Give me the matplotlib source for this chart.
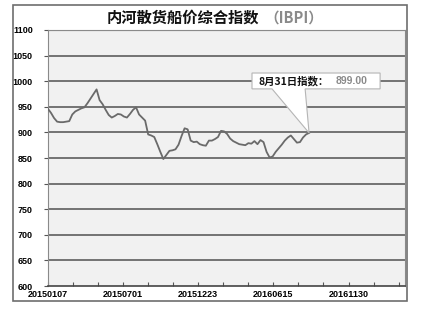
import matplotlib.pyplot as plt
import numpy as np
from matplotlib.patches import Rectangle, Polygon

plt.rcParams['font.family'] = ['Liberation Sans', 'Noto Sans CJK SC', 'DejaVu Sans']

# Indice hebdomadaire, du 20150107 au 20160831
valeurs = [
    946, 938, 928, 921, 920, 920, 921, 922, 935, 941,
    944, 947, 949, 957, 966, 975, 984, 963, 955, 944,
    934, 929, 932, 936, 935, 931, 929, 936, 944, 949,
    935, 929, 923, 896, 894, 891, 877, 862, 848, 856,
    864, 865, 867, 876, 893, 908, 906, 884, 881, 882,
    877, 875, 874, 884, 884, 887, 891, 903, 902, 897,
    888, 883, 880, 877, 876, 875, 879, 878, 883, 877,
    885, 881, 862, 851, 853, 862, 869, 876, 884, 890,
    894, 887, 880, 881, 890, 896, 899,
]
etiquettes_x = ["20150107", "20150701", "20151223", "20160615", "20161130"]
titre = "内河散货船价综合指数"
titre_suite = "（IBPI）"
date_fin = "8月31日指数："
valeur_fin = "899.00"

semaines = np.arange(len(valeurs))

fig = plt.figure(figsize=(4.28, 3.12), dpi=100)
ax = fig.add_axes([48 / 428, 1 - 286 / 312, 357 / 428, 256 / 312])
ax.set_facecolor("#f1f1f1")

# cadre extérieur
fig.patches.append(Rectangle((13 / 428, 1 - 301 / 312), 394 / 428, 296 / 312,
                             transform=fig.transFigure, fill=False,
                             edgecolor="#6e6e6e", linewidth=1.2))

ax.plot(semaines, valeurs, color="#6a6a6a", linewidth=1.3, zorder=3)

ax.set_xlim(0, 117.6)
ax.set_ylim(600, 1100)
ax.set_yticks(np.arange(600, 1101, 50))
ax.set_yticklabels([str(v) for v in range(600, 1101, 50)], fontsize=6.5, fontweight="bold")
pas = 8.25
ax.set_xticks(np.arange(0, 117, pas))
ax.set_xticklabels([etiquettes_x[k // 3] if k % 3 == 0 else "" for k in range(len(np.arange(0, 117, pas)))],
                   fontsize=6.5, fontweight="bold")
ax.tick_params(axis="x", direction="in", length=3, pad=3, color="#555555")
ax.tick_params(axis="y", direction="out", length=3, pad=8, color="#555555")

for v in range(650, 1100, 50):
    ax.axhline(v, color="#5e5e5e", linewidth=1.2, zorder=1)
ax.axhline(1100, color="#999999", linewidth=0.8)

for cote in ["left", "top", "right"]:
    ax.spines[cote].set_color("#8a8a8a")
    ax.spines[cote].set_linewidth(0.8)
ax.spines["bottom"].set_color("#444444")
ax.spines["bottom"].set_linewidth(1.2)

# titre
fig.text(107 / 428, 1 - 18 / 312, titre, fontsize=11, fontweight="bold",
         family=["Noto Sans CJK SC"], va="center", ha="left", color="#111111")
fig.text(264 / 428, 1 - 18 / 312, titre_suite, fontsize=10.5, fontweight="bold",
         family=["Noto Sans CJK SC"], va="center", ha="left", color="#8a8a8a")

# bulle d'annotation sur le dernier point
xf, yf = semaines[-1], valeurs[-1]
bulle = Polygon([(xf - 18.8, yf + 86), (xf - 12.2, yf + 86), (xf, yf),
                 (xf - 1.3, yf + 86), (xf + 23.4, yf + 86), (xf + 23.4, yf + 117),
                 (xf - 18.8, yf + 117)], closed=True, facecolor="white",
                edgecolor="#b5b5b5", linewidth=0.8, zorder=4)
ax.add_patch(bulle)
ax.text(xf - 16.8, yf + 101.5, date_fin, fontsize=7.5, fontweight="bold",
        family=["Noto Sans CJK SC"], va="center", ha="left", color="#111111", zorder=5)
ax.text(xf + 8.8, yf + 101.5, valeur_fin, fontsize=7.5, fontweight="bold",
        va="center", ha="left", color="#8a8a8a", zorder=5)

fig.savefig("out.png", dpi=100)
